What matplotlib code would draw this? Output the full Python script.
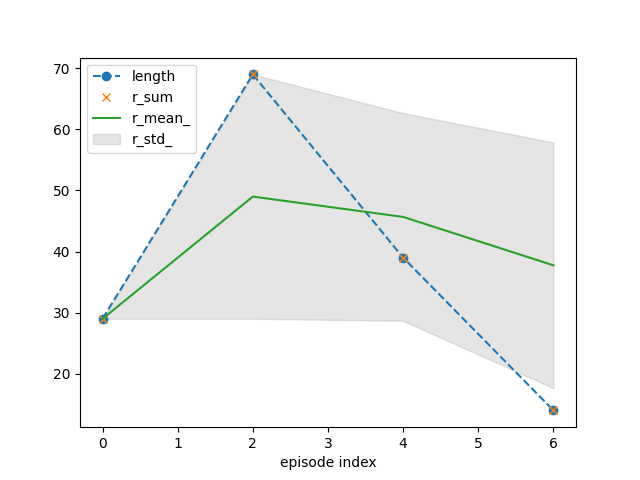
import matplotlib
matplotlib.use("Agg")
import numpy as np
import matplotlib.pyplot as plt

# episode data
episode = [0, 2, 4, 6]
length = [29, 69, 39, 14]
r_sum = [29, 69, 39, 14]
r_mean = [29, 49, 45.67, 37.75]
r_std = [0, 20, 17.0, 20.12]

fig, ax = plt.subplots(figsize=(6.4, 4.8), dpi=100)

ax.plot(episode, length, "o--", color="C0", label="length")
ax.plot(episode, r_sum, "x", color="C1", label="r_sum")
ax.plot(episode, r_mean, "-", color="C2", label="r_mean_")
lo = np.array(r_mean) - np.array(r_std)
hi = np.array(r_mean) + np.array(r_std)
ax.fill_between(episode, lo, hi, color="grey", alpha=0.2, label="r_std_")

ax.set_xlabel("episode index")
ax.legend(loc="upper left")

fig.savefig("out.png")
